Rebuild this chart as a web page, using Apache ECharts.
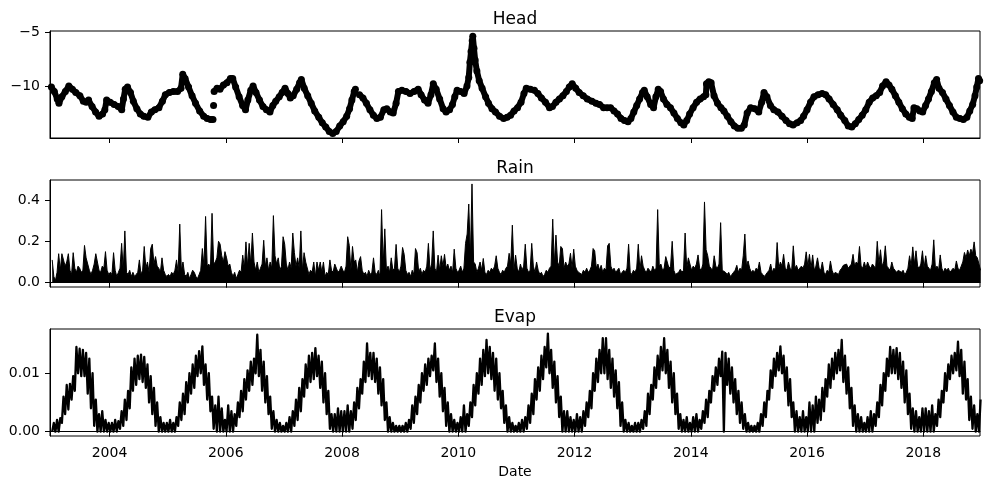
<!DOCTYPE html>
<html>
<head>
<meta charset="utf-8">
<script src="https://cdn.jsdelivr.net/npm/echarts@6/dist/echarts.min.js"></script>
<style>
html,body{margin:0;padding:0;background:#fff}
#chart{width:989px;height:489px}
</style>
</head>
<body>
<div id="chart"></div>
<script>
// groundwater head (decimal year / metres); null = gap
const headYears = [
  2003.00,2003.05,2003.10,2003.13,2003.18,2003.24,2003.30,2003.36,2003.42,2003.49,2003.55,2003.60,2003.64,2003.70,2003.76,2003.82,2003.88,2003.92,2003.95,
  2004.01,2004.08,2004.15,2004.21,2004.24,2004.27,2004.31,2004.36,2004.41,2004.47,2004.53,2004.59,2004.66,2004.72,2004.78,2004.85,2004.91,2004.96,
  2005.03,2005.10,2005.17,2005.23,2005.26,2005.30,2005.36,2005.42,2005.48,2005.55,2005.62,2005.68,2005.74,2005.78,2005.785,2005.79,2005.795,2005.80,2005.85,2005.90,2005.96,
  2006.02,2006.08,2006.12,2006.17,2006.23,2006.29,2006.34,2006.38,2006.43,2006.47,2006.52,2006.58,2006.64,2006.70,2006.76,2006.81,2006.86,2006.92,2006.97,
  2007.02,2007.07,2007.11,2007.16,2007.22,2007.27,2007.30,2007.35,2007.41,2007.47,2007.53,2007.60,2007.66,2007.72,2007.78,2007.84,2007.90,2007.96,
  2008.02,2008.08,2008.13,2008.17,2008.21,2008.23,2008.26,2008.30,2008.36,2008.42,2008.48,2008.54,2008.60,2008.66,2008.72,2008.77,2008.83,2008.88,2008.93,2008.97,
  2009.03,2009.10,2009.17,2009.24,2009.31,2009.36,2009.42,2009.48,2009.53,2009.57,2009.62,2009.68,2009.74,2009.79,2009.85,2009.90,2009.94,2009.98,
  2010.04,2010.10,2010.15,2010.18,2010.20,2010.22,2010.24,2010.25,2010.27,2010.29,2010.32,2010.36,2010.41,2010.47,2010.52,2010.58,2010.64,2010.71,2010.78,2010.84,2010.90,2010.96,
  2011.02,2011.08,2011.13,2011.17,2011.24,2011.31,2011.37,2011.43,2011.50,2011.57,2011.62,2011.68,2011.74,2011.80,2011.86,2011.91,2011.96,
  2012.02,2012.08,2012.15,2012.22,2012.30,2012.37,2012.43,2012.50,2012.56,2012.62,2012.68,2012.74,2012.80,2012.86,2012.92,2012.97,
  2013.02,2013.07,2013.12,2013.17,2013.20,2013.25,2013.31,2013.36,2013.40,2013.44,2013.48,2013.53,2013.59,2013.65,2013.71,2013.77,2013.83,2013.88,2013.93,2013.98,
  2014.04,2014.10,2014.16,2014.22,2014.26,2014.27,2014.31,2014.35,2014.40,2014.46,2014.52,2014.57,2014.63,2014.69,2014.75,2014.81,2014.87,2014.92,2014.97,
  2015.03,2015.10,2015.17,2015.22,2015.26,2015.31,2015.37,2015.43,2015.50,2015.57,2015.64,2015.70,2015.76,2015.83,2015.89,2015.94,
  2016.00,2016.06,2016.12,2016.19,2016.26,2016.32,2016.38,2016.45,2016.52,2016.58,2016.65,2016.71,2016.77,2016.83,2016.89,2016.95,
  2017.01,2017.07,2017.13,2017.19,2017.25,2017.30,2017.36,2017.41,2017.46,2017.52,2017.58,2017.64,2017.70,2017.76,2017.81,2017.84,2017.89,2017.94,2017.99,
  2018.04,2018.09,2018.14,2018.19,2018.23,2018.27,2018.33,2018.39,2018.45,2018.51,2018.57,2018.63,2018.69,2018.75,2018.80,2018.85,2018.89,2018.92,2018.95,2018.97
];
const headValues = [
  -10.1,-10.5,-11.2,-11.6,-11.0,-10.5,-10.0,-10.3,-10.6,-10.9,-11.4,-11.5,-11.3,-11.9,-12.4,-12.8,-12.6,-12.2,-11.3,
  -11.5,-11.7,-11.9,-12.2,-11.2,-10.3,-10.1,-10.6,-11.4,-12.1,-12.6,-12.8,-12.9,-12.4,-12.2,-12.0,-11.4,-10.8,
  -10.6,-10.5,-10.5,-10.2,-8.9,-9.3,-10.1,-10.9,-11.6,-12.3,-12.8,-13.0,-13.1,-13.1,null,-11.8,null,-10.5,-10.2,-10.3,-9.9,
  -9.7,-9.3,-9.3,-10.1,-11.0,-11.8,-12.2,-11.3,-10.4,-10.0,-10.6,-11.3,-11.9,-12.2,-12.4,-11.8,-11.4,-11.0,-10.6,
  -10.2,-10.7,-11.1,-10.9,-10.3,-9.7,-9.4,-10.2,-10.9,-11.6,-12.3,-12.9,-13.4,-13.8,-14.2,-14.4,-14.2,-13.7,
  -13.3,-12.8,-12.1,-11.3,-10.5,-10.3,null,-10.8,-11.1,-11.6,-12.2,-12.7,-13.0,-12.9,-12.2,-12.1,-12.4,-12.5,-11.6,-10.5,
  -10.4,-10.5,-10.7,-10.5,-10.3,-10.8,-11.3,-11.6,-10.8,-9.8,-10.3,-11.2,-12.1,-12.4,-12.2,-11.7,-11.0,-10.4,
  -10.5,-10.7,-10.0,-9.2,-7.8,-6.8,-5.8,-5.4,-6.5,-7.6,-8.6,-9.5,-10.2,-11.0,-11.6,-12.1,-12.4,-12.8,-13.0,-12.9,-12.7,-12.3,
  -12.0,-11.5,-10.7,-10.2,-10.3,-10.4,-10.7,-11.1,-11.5,-12.0,-11.9,-11.5,-11.2,-10.9,-10.5,-10.1,-9.8,
  -10.2,-10.6,-10.9,-11.2,-11.4,-11.6,-11.7,-12.0,-12.0,-12.0,-12.3,-12.6,-13.0,-13.2,-13.3,-13.0,
  -12.4,-11.8,-11.2,-10.6,-10.4,-11.0,-11.7,-12.0,-11.0,-10.3,-10.5,-11.2,-11.7,-12.0,-12.5,-13.0,-13.4,-13.6,-13.2,-12.6,
  -12.0,-11.5,-11.2,-11.0,-10.8,-9.8,-9.6,-9.7,-10.9,-11.6,-12.0,-12.3,-12.8,-13.3,-13.7,-13.9,-13.9,-13.6,-12.5,
  -12.0,-12.1,-12.4,-11.5,-10.6,-11.0,-11.8,-12.2,-12.4,-12.8,-13.2,-13.5,-13.6,-13.4,-13.2,-12.8,
  -12.2,-11.5,-11.0,-10.8,-10.7,-10.8,-11.2,-11.7,-12.2,-12.7,-13.2,-13.7,-13.8,-13.5,-13.1,-12.7,
  -12.2,-11.5,-11.1,-10.9,-10.6,-10.0,-9.6,-9.9,-10.3,-10.9,-11.5,-12.1,-12.6,-12.9,-13.0,-12.0,-12.1,-12.3,-12.4,
  -11.8,-11.2,-10.5,-9.7,-9.4,-10.2,-10.6,-11.2,-11.8,-12.4,-12.9,-13.0,-13.1,-12.9,-12.3,-11.7,-10.9,-10.1,-9.3,-9.5
];

// rain and evaporation: three readings per month (early / mid / late), from Jan 2003
const firstYear = 2003;
const rainValues = [
  0.11,0.03,0.01,0.05,0.14,0.06,0.14,0.14,0.08,0.1,0.14,0.06,0.04,0.145,0.07,0.05,0.08,0.07,0.05,0.06,0.18,0.12,0.09,0.06,0.04,0.06,0.09,0.14,0.14,0.06,0.05,0.08,0.07,0.15,0.06,0.04,
  0.05,0.04,0.145,0.06,0.03,0.05,0.07,0.19,0.06,0.25,0.05,0.04,0.06,0.03,0.05,0.03,0.04,0.05,0.11,0.04,0.06,0.175,0.07,0.10,0.05,0.165,0.186,0.09,0.126,0.08,0.07,0.05,0.12,0.06,0.04,0.03,
  0.04,0.03,0.05,0.04,0.06,0.11,0.05,0.283,0.06,0.10,0.04,0.03,0.05,0.02,0.04,0.06,0.05,0.03,0.02,0.04,0.06,0.165,0.08,0.32,0.08,0.09,0.07,0.335,0.09,0.10,0.12,0.2,0.186,0.13,0.10,0.15,
  0.12,0.08,0.09,0.05,0.03,0.05,0.02,0.04,0.06,0.05,0.133,0.07,0.197,0.08,0.19,0.09,0.24,0.1,0.06,0.10,0.05,0.07,0.09,0.205,0.08,0.12,0.06,0.1,0.07,0.324,0.13,0.09,0.12,0.06,0.08,0.222,
  0.186,0.09,0.06,0.10,0.07,0.24,0.145,0.08,0.12,0.07,0.25,0.06,0.145,0.10,0.10,0.04,0.06,0.05,0.1,0.03,0.1,0.06,0.1,0.05,0.1,0.03,0.05,0.04,0.11,0.06,0.05,0.09,0.07,0.05,0.06,0.08,
  0.06,0.05,0.08,0.222,0.18,0.06,0.175,0.10,0.11,0.05,0.105,0.126,0.06,0.04,0.05,0.03,0.06,0.04,0.05,0.12,0.05,0.04,0.06,0.03,0.353,0.09,0.26,0.06,0.08,0.05,0.12,0.06,0.07,0.185,0.07,0.05,
  0.08,0.17,0.137,0.06,0.04,0.05,0.03,0.06,0.04,0.165,0.145,0.05,0.07,0.04,0.06,0.05,0.08,0.19,0.06,0.09,0.25,0.07,0.05,0.133,0.06,0.13,0.08,0.137,0.07,0.09,0.06,0.08,0.05,0.162,0.07,0.05,
  0.06,0.08,0.05,0.07,0.19,0.235,0.38,0.12,0.477,0.1,0.09,0.05,0.07,0.1,0.06,0.117,0.05,0.04,0.06,0.05,0.07,0.06,0.08,0.13,0.07,0.05,0.04,0.06,0.05,0.07,0.08,0.142,0.09,0.278,0.06,0.133,
  0.07,0.05,0.09,0.06,0.08,0.186,0.07,0.05,0.06,0.19,0.08,0.05,0.1,0.06,0.04,0.05,0.03,0.04,0.06,0.05,0.07,0.08,0.307,0.09,0.23,0.1,0.08,0.175,0.165,0.07,0.1,0.08,0.09,0.142,0.07,0.162,
  0.08,0.06,0.05,0.057,0.04,0.06,0.05,0.07,0.05,0.06,0.08,0.165,0.154,0.07,0.09,0.06,0.084,0.05,0.07,0.06,0.178,0.19,0.08,0.06,0.07,0.05,0.06,0.07,0.04,0.05,0.06,0.05,0.07,0.186,0.05,0.04,
  0.06,0.05,0.07,0.186,0.06,0.13,0.08,0.06,0.05,0.07,0.06,0.05,0.08,0.06,0.07,0.353,0.08,0.09,0.06,0.07,0.126,0.12,0.07,0.08,0.2,0.06,0.04,0.04,0.05,0.065,0.05,0.06,0.24,0.07,0.12,0.09,
  0.06,0.08,0.07,0.09,0.134,0.07,0.06,0.09,0.39,0.159,0.13,0.08,0.07,0.06,0.13,0.08,0.07,0.09,0.29,0.06,0.06,0.05,0.04,0.05,0.03,0.04,0.05,0.06,0.084,0.05,0.07,0.06,0.13,0.235,0.08,0.105,
  0.07,0.05,0.06,0.05,0.07,0.06,0.1,0.05,0.04,0.03,0.04,0.05,0.06,0.09,0.05,0.07,0.06,0.194,0.07,0.1,0.08,0.137,0.07,0.06,0.1,0.07,0.06,0.178,0.07,0.084,0.06,0.07,0.08,0.07,0.09,0.149,
  0.08,0.137,0.07,0.134,0.06,0.08,0.12,0.07,0.06,0.1,0.05,0.04,0.06,0.05,0.105,0.06,0.04,0.05,0.057,0.04,0.06,0.07,0.084,0.08,0.09,0.07,0.08,0.09,0.137,0.08,0.1,0.09,0.175,0.08,0.07,0.1,
  0.07,0.1,0.08,0.07,0.09,0.08,0.07,0.2,0.09,0.159,0.08,0.1,0.178,0.08,0.07,0.06,0.1,0.07,0.06,0.05,0.06,0.057,0.05,0.06,0.04,0.05,0.07,0.13,0.08,0.173,0.09,0.154,0.08,0.07,0.09,0.154,
  0.07,0.13,0.08,0.07,0.06,0.09,0.207,0.07,0.08,0.06,0.134,0.07,0.05,0.07,0.06,0.07,0.05,0.06,0.07,0.06,0.105,0.07,0.06,0.08,0.1,0.146,0.12,0.158,0.13,0.162,0.14,0.197,0.13,0.12,0.09,0.06
];
// evap band: readings alternate between the lower and upper edge of the band
const evapValues = [
  0,0.0015,0, 0.002,0,0.0023, 0.0015,0.006,0.003, 0.008,0.0038,0.0082, 0.0055,0.0095,0.007, 0.0145,0.01,0.0142, 0.0095,0.014,0.0095, 0.0135,0.0065,0.0125, 0.004,0.01,0.001, 0.0055,0,0.003, 0,0.0035,0, 0.002,0,0.0015,
  0,0.0015,0, 0.002,0,0.0018, 0.0005,0.0035,0.001, 0.0055,0.002,0.007, 0.004,0.011,0.007, 0.0125,0.008,0.013, 0.009,0.0132,0.0085, 0.0128,0.0075,0.0115, 0.005,0.0095,0.003, 0.0075,0.001,0.005, 0,0.0025,0, 0.0015,0,0.0015,
  0,0.002,0, 0.0015,0,0.0025, 0.001,0.005,0.002, 0.0065,0.003,0.0085, 0.005,0.01,0.0065, 0.0115,0.0075,0.013, 0.0095,0.0138,0.01, 0.0146,0.008,0.0115, 0.0055,0.01,0.0035, 0.006,0.0005,0.0045, 0,0.006,0, 0.004,0,0.002,
  0,0.0045,0, 0.0035,0,0.003, 0.001,0.005,0.0025, 0.007,0.0035,0.009, 0.0055,0.0105,0.007, 0.012,0.008,0.0125, 0.01,0.0166,0.0095, 0.014,0.007,0.012, 0.005,0.0095,0.003, 0.006,0.0005,0.0035, 0,0.002,0, 0.0015,0,0.001,
  0,0.0015,0, 0.0025,0,0.0035, 0.001,0.0055,0.002, 0.0075,0.0035,0.009, 0.006,0.0115,0.0075, 0.013,0.0085,0.0135, 0.009,0.0143,0.0095, 0.013,0.0075,0.012, 0.005,0.01,0.003, 0.007,0.0005,0.003, 0,0.003,0, 0.004,0,0.0035,
  0,0.0035,0, 0.0045,0,0.0035, 0.0005,0.005,0.002, 0.0075,0.004,0.009, 0.0065,0.012,0.0085, 0.0151,0.0095,0.0135, 0.009,0.0135,0.0085, 0.0125,0.0065,0.011, 0.0045,0.009,0.002, 0.005,0,0.0025, 0,0.0015,0, 0.001,0,0.001,
  0,0.001,0, 0.0015,0,0.002, 0.0005,0.0045,0.0015, 0.006,0.003,0.008, 0.005,0.01,0.007, 0.0115,0.008,0.0125, 0.0095,0.013,0.0105, 0.0151,0.0085,0.0125, 0.006,0.01,0.0035, 0.0075,0.001,0.005, 0,0.003,0, 0.002,0,0.0015,
  0,0.0025,0, 0.0045,0,0.003, 0.001,0.005,0.0025, 0.008,0.0045,0.01, 0.0065,0.0125,0.008, 0.014,0.0095,0.0157, 0.01,0.0145,0.009, 0.0135,0.007,0.0125, 0.0055,0.01,0.004, 0.007,0.0015,0.0045, 0,0.0025,0, 0.0015,0,0.001,
  0,0.0015,0, 0.002,0,0.0025, 0.0005,0.0045,0.0015, 0.0065,0.003,0.009, 0.0055,0.011,0.007, 0.013,0.009,0.0145, 0.011,0.0168,0.01, 0.014,0.0075,0.012, 0.005,0.0095,0.0025, 0.006,0,0.0035, 0,0.0035,0, 0.0025,0,0.002,
  0,0.003,0, 0.0025,0,0.0035, 0.001,0.005,0.0025, 0.007,0.004,0.01, 0.007,0.0125,0.0085, 0.014,0.01,0.016, 0.01,0.016,0.009, 0.014,0.0075,0.0125, 0.006,0.0105,0.004, 0.0085,0.001,0.005, 0,0.002,0, 0.0015,0,0.001,
  0,0.0015,0, 0.0015,0,0.002, 0.0005,0.0035,0.001, 0.0065,0.003,0.008, 0.0055,0.011,0.0075, 0.013,0.009,0.0145, 0.0105,0.016,0.01, 0.014,0.0075,0.012, 0.005,0.01,0.003, 0.0065,0.0005,0.003, 0,0.002,0, 0.0025,0,0.0015,
  0,0.0025,0, 0.003,0,0.002, 0.0005,0.0035,0.0015, 0.0055,0.0025,0.007, 0.005,0.0095,0.007, 0.011,0.008,0.0125, 0.0095,0.0137,0, 0.0135,0.008,0.0125, 0.0065,0.011,0.005, 0.009,0.003,0.007, 0.0015,0.005,0.0005, 0.003,0,0.0015,
  0,0.001,0, 0.001,0,0.0015, 0,0.003,0.001, 0.005,0.0025,0.007, 0.0055,0.0105,0.0075, 0.0125,0.0095,0.0135, 0.0105,0.0146,0.01, 0.013,0.007,0.011, 0.0045,0.009,0.0025, 0.005,0,0.0035, 0,0.0025,0, 0.0035,0,0.0025,
  0,0.005,0, 0.0045,0,0.006, 0.0015,0.0055,0.002, 0.0075,0.0035,0.009, 0.006,0.0115,0.0075, 0.0125,0.009,0.0135, 0.01,0.014,0.0105, 0.0157,0.0085,0.013, 0.0065,0.011,0.004, 0.0075,0.001,0.0045, 0,0.003,0, 0.0025,0,0.0015,
  0,0.0025,0, 0.0035,0,0.003, 0.001,0.005,0.0025, 0.008,0.0045,0.01, 0.007,0.0125,0.0095, 0.0145,0.01,0.014, 0.01,0.0143,0.009, 0.0135,0.0075,0.012, 0.005,0.0105,0.003, 0.0065,0.0005,0.004, 0,0.0035,0, 0.0025,0,0.004,
  0,0.004,0, 0.0035,0,0.0045, 0,0.003,0.001, 0.0055,0.0025,0.007, 0.005,0.01,0.007, 0.0115,0.009,0.013, 0.01,0.0135,0.0105, 0.0154,0.0095,0.014, 0.0065,0.012,0.0055, 0.009,0.002,0.006, 0.0005,0.0045,0, 0.003,0,0.0055
];

const xTickYears = [2004, 2006, 2008, 2010, 2012, 2014, 2016, 2018];
const headTicks = [-10, -5];
const rainTicks = [0, 0.2, 0.4];
const evapTicks = [0, 0.01];
const panelTitles = ['Head', 'Rain', 'Evap'];

const font = 'DejaVu Sans';
const gridTops = [31, 180, 329];

// dekad slot k -> decimal year
const slotYear = k => firstYear + (k + 0.5) / 36;

const chart = echarts.init(document.getElementById('chart'), null, {renderer: 'canvas'});

const xAxes = gridTops.map((t, i) => ({
  type: 'value',
  gridIndex: i,
  min: 2002.976,
  max: 2018.976,
  axisLine: {show: true, lineStyle: {color: '#000', width: 1}},
  splitLine: {show: false},
  axisTick: {show: true, customValues: xTickYears, length: 5, lineStyle: {color: '#000', width: 1}},
  axisLabel: {
    show: i === 2,
    customValues: xTickYears,
    formatter: v => String(Math.round(v)),
    margin: 10,
    color: '#000',
    fontFamily: font,
    fontSize: 14
  }
}));

function yAxis(i, min, max, ticks, fmt) {
  return {
    type: 'value',
    gridIndex: i,
    min: min,
    max: max,
    axisLine: {show: true, lineStyle: {color: '#000', width: 1}},
    splitLine: {show: false},
    axisTick: {show: true, customValues: ticks, length: 5, lineStyle: {color: '#000', width: 1}},
    axisLabel: {customValues: ticks, formatter: fmt, margin: 10, color: '#000', fontFamily: font, fontSize: 14}
  };
}

chart.setOption({
  animation: false,
  backgroundColor: '#fff',
  title: panelTitles.map((t, i) => ({
    text: t,
    left: 515,
    top: gridTops[i] - 20,
    textAlign: 'center',
    textVerticalAlign: 'top',
    padding: 0,
    textStyle: {fontFamily: font, fontSize: 17, fontWeight: 'normal', color: '#000'}
  })).concat([{
    text: 'Date',
    left: 515,
    top: 465,
    textAlign: 'center',
    textVerticalAlign: 'top',
    padding: 0,
    textStyle: {fontFamily: font, fontSize: 14, fontWeight: 'normal', color: '#000'}
  }]),
  grid: gridTops.map(t => ({
    left: 50, width: 930, top: t, height: 107,
    show: true, borderColor: '#000', borderWidth: 1, backgroundColor: 'transparent'
  })),
  xAxis: xAxes,
  yAxis: [
    yAxis(0, -14.81, -4.907, headTicks, v => (v < 0 ? '\u2212' : '') + Math.abs(v)),
    yAxis(1, -0.0208, 0.496, rainTicks, v => v.toFixed(1)),
    yAxis(2, -0.00074, 0.01758, evapTicks, v => v.toFixed(2))
  ],
  series: [
    {
      name: 'Head',
      type: 'line',
      xAxisIndex: 0, yAxisIndex: 0,
      data: headYears.map((x, i) => [x, headValues[i] === null ? '-' : headValues[i]]),
      symbol: 'circle',
      symbolSize: 7,
      showSymbol: true,
      showAllSymbol: true,
      connectNulls: false,
      itemStyle: {color: '#000'},
      lineStyle: {color: '#000', width: 6},
      emphasis: {disabled: true}
    },
    {
      name: 'Rain',
      type: 'line',
      xAxisIndex: 1, yAxisIndex: 1,
      data: rainValues.map((v, k) => [slotYear(k), v]),
      symbol: 'none',
      lineStyle: {color: '#000', width: 1},
      areaStyle: {color: '#000', opacity: 1},
      emphasis: {disabled: true}
    },
    {
      name: 'Evap',
      type: 'line',
      xAxisIndex: 2, yAxisIndex: 2,
      data: evapValues.map((v, k) => [slotYear(k), v]),
      symbol: 'none',
      lineStyle: {color: '#000', width: 2.3, join: 'round'},
      emphasis: {disabled: true}
    }
  ]
});
</script>
</body>
</html>
